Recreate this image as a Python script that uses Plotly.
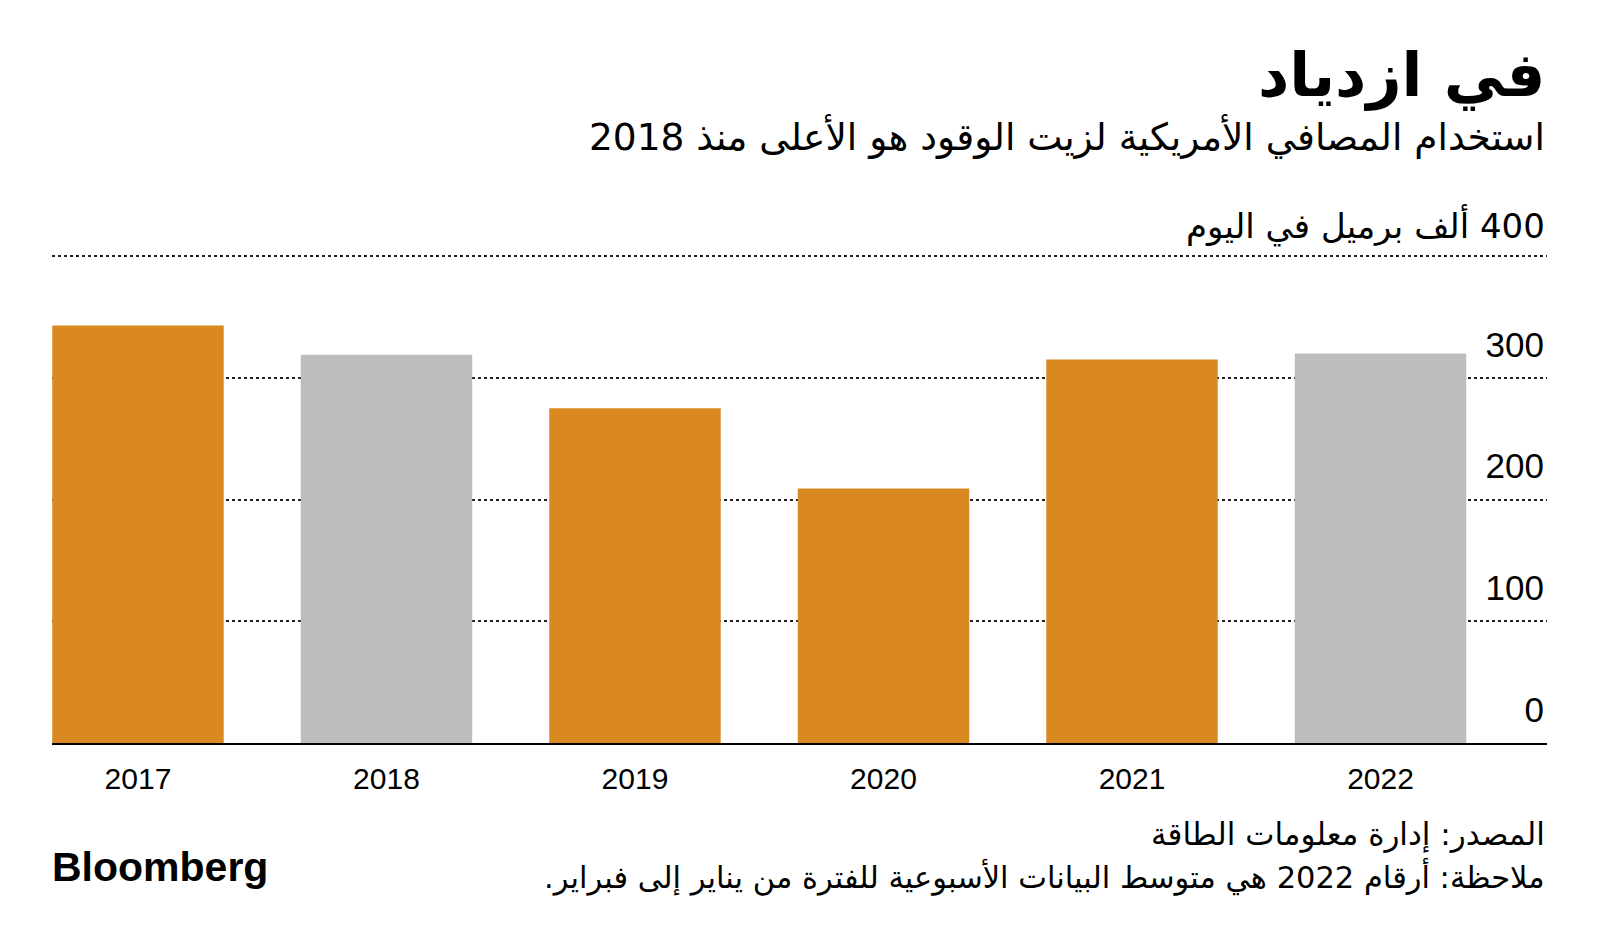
import plotly.graph_objects as go

# ---- data ----
years = ["2017", "2018", "2019", "2020", "2021", "2022"]
values = [343, 319, 275, 209, 315, 320]
highlight = [True, False, True, True, True, False]
y_ticks = [0, 100, 200, 300, 400]
y_tick_text = ["0", "100", "200", "300", ""]
unit_text = "400 ألف برميل في اليوم"

title_text = "في ازدياد"
subtitle_text = "استخدام المصافي الأمريكية لزيت الوقود هو الأعلى منذ 2018"
source_text = "المصدر: إدارة معلومات الطاقة"
note_text = "ملاحظة: أرقام 2022 هي متوسط البيانات الأسبوعية للفترة من يناير إلى فبراير."

ORANGE = "#DA8920"
GREY = "#BDBDBD"
RLE, PDF = "\u202b", "\u202c"
AR_FONT = "DejaVu Sans, sans-serif"
NUM_FONT = "Liberation Sans, Arial, sans-serif"

W, H = 1600, 946
OFF = 8  # page body margin
L, R, T, B = 44, 61, 242, 211


def rtl(s):
    return RLE + s + PDF


def px(x_page):
    return (x_page - OFF - L) / (W - L - R)


def py(y_page):
    return ((H - (y_page - OFF)) - B) / (H - T - B)


xs = list(range(len(years)))
colors = [ORANGE if h else GREY for h in highlight]

fig = go.Figure()
fig.add_trace(go.Bar(
    x=xs, y=values, marker=dict(color=colors, line=dict(width=0)),
    width=0.69, hoverinfo="skip",
))

fig.update_layout(
    width=W, height=H,
    margin=dict(l=L, r=R, t=T, b=B),
    paper_bgcolor="white", plot_bgcolor="white",
    showlegend=False,
    font=dict(family=NUM_FONT, color="#000000"),
    xaxis=dict(
        range=[-0.346, 5.67],
        tickvals=xs, ticktext=years,
        tickfont=dict(family=NUM_FONT, size=30, color="#000"),
        showgrid=False, zeroline=False,
        showline=True, linecolor="#000", linewidth=2,
        ticks="", ticklabelstandoff=8,
        fixedrange=True,
    ),
    yaxis=dict(
        range=[0, 405], side="right",
        tickvals=y_ticks, ticktext=y_tick_text,
        ticklabelposition="inside top", ticklabelshift=-9,
        tickfont=dict(family=NUM_FONT, size=35, color="#000"),
        showgrid=True, gridcolor="#222", gridwidth=1.5, griddash="dot",
        zeroline=False, showline=False, ticks="",
        fixedrange=True,
    ),
)

annos = [
    dict(text=rtl(title_text), y=75, font=dict(family=AR_FONT, size=61, color="#000", weight="bold")),
    dict(text=rtl(subtitle_text), y=137, font=dict(family=AR_FONT, size=37.5, color="#000")),
    dict(text=rtl(source_text), y=834, font=dict(family=AR_FONT, size=31, color="#000")),
    dict(text=rtl(note_text), y=876, font=dict(family=AR_FONT, size=30.5, color="#000")),
]
for a in annos:
    fig.add_annotation(
        text=a["text"], xref="paper", yref="paper",
        x=px(1547), y=py(a["y"]),
        xanchor="right", yanchor="middle", showarrow=False, align="right",
        font=a["font"],
    )

# unit label sitting on the top gridline
fig.add_annotation(
    text=rtl(unit_text), xref="paper", yref="y", x=1, y=y_ticks[-1],
    xanchor="right", yanchor="middle", yshift=31, showarrow=False,
    font=dict(family=AR_FONT, size=34, color="#000"),
)

fig.add_annotation(
    text="<b>Bloomberg</b>", xref="paper", yref="paper",
    x=px(50), y=py(867),
    xanchor="left", yanchor="middle", showarrow=False,
    font=dict(family=NUM_FONT, size=41, color="#000"),
)

fig.write_html("out.html")
